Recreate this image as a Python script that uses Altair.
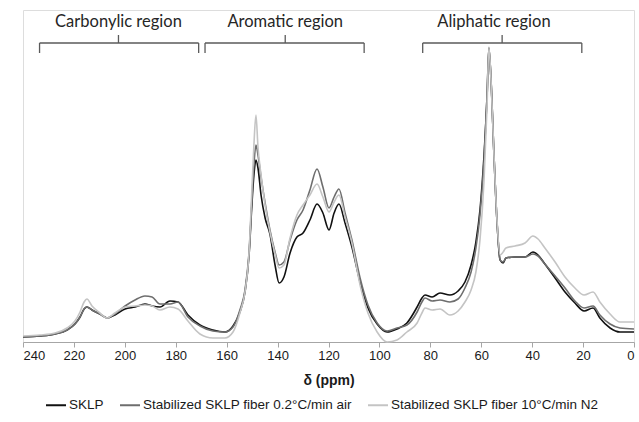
import altair as alt
import pandas as pd

# chemical shift grid (ppm)
ppm = [240.0, 233.3, 227.4, 222.7, 219.6, 217.6, 216.0, 214.9, 212.9, 209.8,
       207.0, 203.9, 199.9, 196.0, 192.1, 189.3, 186.2, 182.3, 179.1, 175.2,
       170.5, 165.4, 160.7, 157.5, 154.8, 152.8, 151.2, 150.1, 149.3, 148.5,
       147.7, 146.5, 144.9, 143.0, 141.0, 139.4, 137.5, 135.1, 132.4, 130.0,
       127.3, 124.5, 122.2, 119.8, 117.8, 115.9, 113.5, 110.8, 107.6, 104.5,
       100.9, 97.0, 93.1, 89.2, 85.2, 83.3, 82.1, 79.3, 76.2, 72.3,
       69.1, 66.4, 64.0, 62.1, 60.5, 58.9, 57.7, 57.0, 56.2, 55.0,
       53.8, 52.6, 51.4, 50.3, 46.7, 42.8, 39.7, 37.7, 35.0, 31.0,
       27.1, 23.2, 19.6, 16.1, 13.4, 9.4, 5.5, 0.0]

sklp = [3, 4, 6, 10, 16, 23, 31, 33, 30, 26,
        22, 25, 31, 33, 36, 34, 33, 39, 38, 25,
        15, 10, 8, 14, 28, 48, 85, 135, 165, 180,
        172, 145, 122, 106, 75, 57, 63, 87, 103, 107,
        120, 136, 127, 110, 127, 136, 117, 93, 58, 32,
        16, 8, 11, 17, 33, 42, 45, 43, 47, 45,
        49, 58, 75, 98, 130, 185, 245, 292, 262, 185,
        118, 80, 77, 82, 83, 83, 88, 85, 76, 62,
        48, 37, 29, 32, 22, 12, 8, 8]

air = [3, 4, 6, 10, 16, 23, 31, 33, 30, 26,
       22, 26, 34, 40, 44, 43, 36, 36, 38, 23,
       14, 9, 8, 13, 30, 50, 88, 140, 175, 195,
       185, 163, 137, 110, 88, 75, 78, 100, 120, 130,
       150, 171, 153, 132, 143, 151, 127, 100, 62, 35,
       17, 9, 12, 15, 28, 38, 42, 39, 40, 38,
       41, 52, 68, 92, 125, 180, 245, 292, 262, 185,
       118, 80, 78, 82, 83, 83, 86, 84, 76, 64,
       52, 39, 32, 34, 25, 16, 12, 11]

n2 = [4, 5, 7, 12, 19, 28, 38, 41, 34, 27,
      22, 27, 33, 34, 35, 34, 30, 33, 31, 19,
      6, 2, 2, 8, 27, 48, 88, 150, 195, 225,
      193, 165, 135, 108, 86, 72, 75, 102, 125, 135,
      145, 156, 143, 128, 138, 145, 123, 97, 55, 27,
      8, -2, 0, 8, 17, 27, 32, 30, 31, 25,
      29, 38, 50, 68, 100, 160, 235, 293, 262, 185,
      120, 85, 88, 92, 94, 97, 104, 101, 92, 78,
      63, 52, 45, 48, 38, 26, 18, 18]

series_names = ["SKLP",
                "Stabilized SKLP fiber 0.2°C/min air",
                "Stabilized SKLP fiber 10°C/min N2"]
series_colors = ["#111111", "#6e6e6e", "#c4c4c4"]

# region brackets
region_labels = ["Carbonylic region", "Aromatic region", "Aliphatic region"]
region_start = [233.5, 168.5, 83.0]
region_end = [171.0, 106.0, 20.5]
region_tip = [202.5, 137.0, 51.8]
label_pos = [202.5, 137.0, 55.0]

rows = []
for name, vals in zip(series_names, [sklp, air, n2]):
    for p, v in zip(ppm, vals):
        rows.append({"ppm": p, "intensity": v, "series": name})
df = pd.DataFrame(rows)

x_scale = alt.Scale(domain=[0, 240], reverse=True, nice=False)
y_scale = alt.Scale(domain=[-2, 330], nice=False, zero=False)

lines = alt.Chart(df).mark_line(strokeWidth=1.6, interpolate="monotone").encode(
    x=alt.X("ppm:Q", scale=x_scale,
            axis=alt.Axis(values=list(range(0, 241, 20)), title="δ (ppm)",
                          grid=False, domainColor="#a6a6a6", tickColor="#a6a6a6",
                          tickSize=5, labelFont="Liberation Sans", labelFontSize=13,
                          labelColor="#1a1a1a", labelPadding=2,
                          titleFont="Liberation Sans", titleFontSize=14,
                          titleFontWeight="bold", titleColor="#1a1a1a",
                          titlePadding=11)),
    y=alt.Y("intensity:Q", scale=y_scale, axis=None),
    color=alt.Color("series:N",
                    scale=alt.Scale(domain=series_names, range=series_colors),
                    sort=series_names,
                    legend=alt.Legend(title=None, orient="none", direction="horizontal",
                                      legendX=22, legendY=384,
                                      symbolType="stroke", symbolSize=400,
                                      symbolStrokeWidth=2, labelFont="Liberation Sans",
                                      labelFontSize=13.5, labelColor="#1a1a1a",
                                      labelLimit=0, labelOffset=2, columnPadding=12)),
    order=alt.Order("ppm:Q"),
)

bdf = pd.DataFrame({"label": region_labels, "start": region_start,
                    "end": region_end, "tip": region_tip, "lx": label_pos})
bdf["ybar"] = 297
bdf["yleg"] = 287
bdf["ytip"] = 305
bdf["ytext"] = 318

bcol = "#5a5a5a"
hbar = alt.Chart(bdf).mark_rule(color=bcol, strokeWidth=1.3).encode(
    x=alt.X("start:Q", scale=x_scale), x2="end:Q",
    y=alt.Y("ybar:Q", scale=y_scale))
leg_l = alt.Chart(bdf).mark_rule(color=bcol, strokeWidth=1.3).encode(
    x=alt.X("start:Q", scale=x_scale),
    y=alt.Y("yleg:Q", scale=y_scale), y2="ybar:Q")
leg_r = alt.Chart(bdf).mark_rule(color=bcol, strokeWidth=1.3).encode(
    x=alt.X("end:Q", scale=x_scale),
    y=alt.Y("yleg:Q", scale=y_scale), y2="ybar:Q")
tip = alt.Chart(bdf).mark_rule(color=bcol, strokeWidth=1.3).encode(
    x=alt.X("tip:Q", scale=x_scale),
    y=alt.Y("ybar:Q", scale=y_scale), y2="ytip:Q")
texts = alt.Chart(bdf).mark_text(font="Lato", fontSize=16.5, color="#262626",
                                 baseline="middle", align="center").encode(
    x=alt.X("lx:Q", scale=x_scale),
    y=alt.Y("ytext:Q", scale=y_scale),
    text="label:N")

chart = alt.layer(lines, hbar, leg_l, leg_r, tip, texts).properties(
    width=611, height=332,
    autosize=alt.AutoSizeParams(type="none"),
    padding={"left": 23, "top": 10, "right": 5, "bottom": 80},
).configure_view(stroke=None).configure(background="white")

chart.save("out.html", embed_options={"renderer": "svg", "actions": False})
